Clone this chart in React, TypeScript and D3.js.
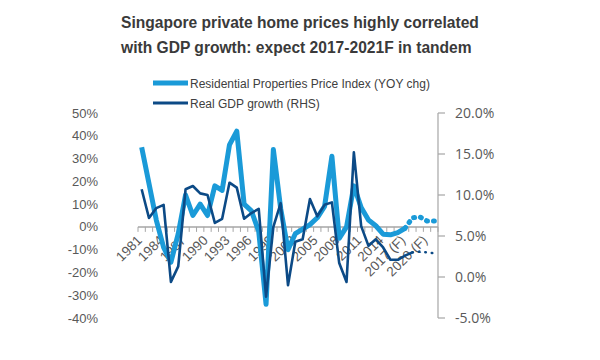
import React from "react";
import * as d3 from "d3";

const years: string[] = d3.range(1981, 2022).map(String);
// Residential Properties Price Index YoY change (%), left axis
const rppi: number[] = [
  35, 19, 3, -9, -15.5, -3, 14, 5, 10, 5,
  18, 16, 36, 42, 10, 7, -2, -34, 34, 8,
  -10, -3, -1, 1, 4, 9, 31, -5, 0, 18,
  8.5, 3, 0.5, -3.2, -3.5, -2.5, -0.6, 4, 4.4, 2.6,
  2.6,
];
// Real GDP growth (%), right axis
const gdp: number[] = [
  10.7, 7.2, 8.4, 8.8, -0.6, 1.3, 10.7, 11.1, 10.2, 10.0,
  6.6, 7.1, 11.5, 10.9, 7.1, 7.8, 8.3, -2.4, 6.1, 9.0,
  -1.0, 4.3, 4.6, 9.5, 7.4, 8.8, 9.1, 1.7, -0.6, 15.2,
  6.2, 3.8, 4.6, 3.6, 2.1, 2.1, 2.6, 3.0, 3.1, 3.0,
  2.9,
];
const rppiSolidEnd = "2017";
const gdpSolidEnd = "2018";
const xLabels: string[] = ["1981", "1984", "1987", "1990", "1993", "1996", "1999", "2002", "2005", "2008", "2011", "2014", "2017", "2020"];
const xLabelText: Record<string, string> = { "2017": "2017 (F)", "2020": "2020 (F)" };
const leftTicks: number[] = [50, 40, 30, 20, 10, 0, -10, -20, -30, -40];
const rightTicks: number[] = [20, 15, 10, 5, 0, -5];

const LIGHT = "#1a9ad8";
const DARK = "#0c4a86";
const AXIS = "#a6a6a6";
const TEXT = "#595959";

export default function App() {
  const W = 600, H = 360;
  const x = d3.scaleBand<string>().domain(years).range([138, 438]);
  const yL = d3.scaleLinear().domain([-40, 50]).range([318, 113]);
  const yR = d3.scaleLinear().domain([-5, 20]).range([318, 113]);
  const cx = (y: string) => (x(y) as number) + x.bandwidth() / 2;

  const lineL = d3.line<number>().x((_, i) => cx(years[i])).y((d) => yL(d));
  const lineR = d3.line<number>().x((_, i) => cx(years[i])).y((d) => yR(d));

  const iL = years.indexOf(rppiSolidEnd);
  const iR = years.indexOf(gdpSolidEnd);
  const lSolid = lineL.defined((_, i) => i <= iL)(rppi) || "";
  const lDot = lineL.defined((_, i) => i >= iL)(rppi) || "";
  const rSolid = lineR.defined((_, i) => i <= iR)(gdp) || "";
  const rDot = lineR.defined((_, i) => i >= iR)(gdp) || "";

  const y0 = yL(0);
  const boundaries = d3.range(years.length + 1).map((i) => 138 + i * x.step());

  return (
    <svg width={W} height={H} style={{ position: "absolute", left: 0, top: 0, background: "#fff" }} fontFamily="Liberation Sans, Arial, sans-serif">
      <text x={121} y={28} fontSize={15.6} fontWeight="bold" fill="#3a3a3a">Singapore private home prices highly correlated</text>
      <text x={121} y={53} fontSize={15.6} fontWeight="bold" fill="#3a3a3a">with GDP growth: expect 2017-2021F in tandem</text>

      {/* legend */}
      <line x1={153} x2={188} y1={83} y2={83} stroke={LIGHT} strokeWidth={5} />
      <text x={190} y={87.5} fontSize={12} fill="#404040">Residential Properties Price Index (YOY chg)</text>
      <line x1={153} x2={188} y1={103} y2={103} stroke={DARK} strokeWidth={3} />
      <text x={190} y={107.5} fontSize={12} fill="#404040">Real GDP growth (RHS)</text>

      {/* left axis labels */}
      {leftTicks.map((t) => (
        <text key={t} x={98} y={yL(t)} dy="0.35em" textAnchor="end" fontSize={13} fill={TEXT}>{t}%</text>
      ))}
      {/* right axis */}
      <line x1={438} x2={438} y1={113} y2={318} stroke={AXIS} strokeWidth={1.2} />
      {rightTicks.map((t) => (
        <g key={t}>
          <line x1={438} x2={445} y1={yR(t)} y2={yR(t)} stroke={AXIS} strokeWidth={1.2} />
          <text x={455} y={yR(t)} dy="0.35em" fontSize={14} fill={TEXT} fontFamily="Open Sans, sans-serif">{t.toFixed(1)}%</text>
        </g>
      ))}
      {/* x axis */}
      <line x1={138} x2={438} y1={y0} y2={y0} stroke={AXIS} strokeWidth={1.5} />
      {boundaries.map((b, i) => (
        <line key={i} x1={b} x2={b} y1={y0} y2={y0 + 5} stroke={AXIS} strokeWidth={1} />
      ))}
      {xLabels.map((l) => (
        <text key={l} transform={`translate(${cx(l) - 5.5},${y0 + 7.5}) rotate(-45)`} textAnchor="end" dy="0.7em" fontSize={13.5} fill={TEXT}>{xLabelText[l] || l}</text>
      ))}

      {/* series */}
      <path d={lSolid} fill="none" stroke={LIGHT} strokeWidth={5} strokeLinejoin="round" />
      <path d={lDot} fill="none" stroke={LIGHT} strokeWidth={5} strokeLinecap="round" strokeDasharray="1,6" />
      <path d={rSolid} fill="none" stroke={DARK} strokeWidth={2.6} strokeLinejoin="round" />
      <path d={rDot} fill="none" stroke={DARK} strokeWidth={2.6} strokeLinecap="round" strokeDasharray="0.5,6" />
    </svg>
  );
}
